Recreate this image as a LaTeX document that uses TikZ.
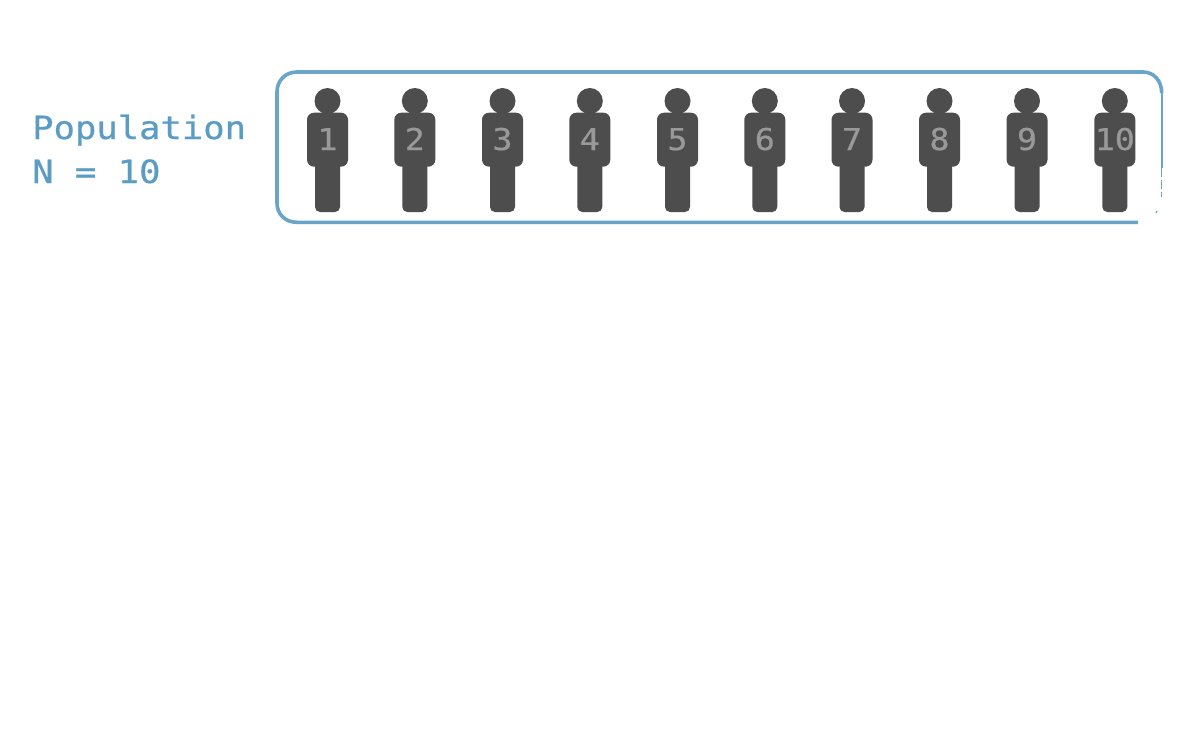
\documentclass[tikz,border=0pt]{standalone}
\usepackage{fontspec}
\newfontfamily\popfont[FakeStretch=1.11,FakeBold=0.6]{DejaVu Sans Mono}
\definecolor{popblue}{HTML}{5A9CC3}
\definecolor{edgeblue}{HTML}{68A5C8}
\definecolor{figdark}{HTML}{4D4D4D}
\definecolor{figtext}{HTML}{999999}
\tikzset{
  poplabel/.style={anchor=base west,inner sep=0pt,text=popblue,font=\fontsize{32}{40}\selectfont\popfont},
  fignum/.style={anchor=base,inner sep=0pt,text=figtext,font=\fontsize{30}{30}\selectfont\popfont},
  edgeline/.style={draw=edgeblue,line width=3.6pt},
  edgethin/.style={draw=edgeblue,line width=2pt},
  person/.pic={
    \fill[figdark] (0,101) circle[radius=13];
    \fill[figdark,rounded corners=7pt] (-20.5,112.7) rectangle (20.5,166.7);
    \fill[figdark,rounded corners=5pt] (-12.5,150) rectangle (12.5,212);
  }
}
\begin{document}
\begin{tikzpicture}[x=1pt,y=-1pt]
\useasboundingbox (0,0) rectangle (1200,736);
\fill[white] (0,0) rectangle (1200,736);
\node[poplabel] (poptext) at (32,139) {Population};
\node[poplabel] (ntext) at (32,183) {N = 10};
\draw[edgeline,line join=round] (1138,222.3) -- (297,222.3)
  .. controls (285,222.3) and (277,214) .. (277,203)
  -- (277,92)
  .. controls (277,81) and (285,72) .. (297,72)
  -- (1143,72)
  .. controls (1154,72) and (1161.7,81) .. (1161.7,93);
\draw[edgethin] (1161.7,93) -- (1161.7,168);
\draw[draw=edgeblue,line width=1.2pt,dash pattern=on 9pt off 3pt] (1161.7,168) -- (1161.7,197);
\draw[draw=edgeblue,line width=1.2pt] (1157,211) -- (1156,213);
\foreach \n/\cx in {1/327.5,2/414.8,3/502.5,4/589.8,5/677.5,6/764.8,7/852,8/939.5,9/1027,10/1114.8}{
  \pic at (\cx,0) {person};
  \node[fignum] (num\n) at (\cx,150) {\n};
}
\end{tikzpicture}
\end{document}
